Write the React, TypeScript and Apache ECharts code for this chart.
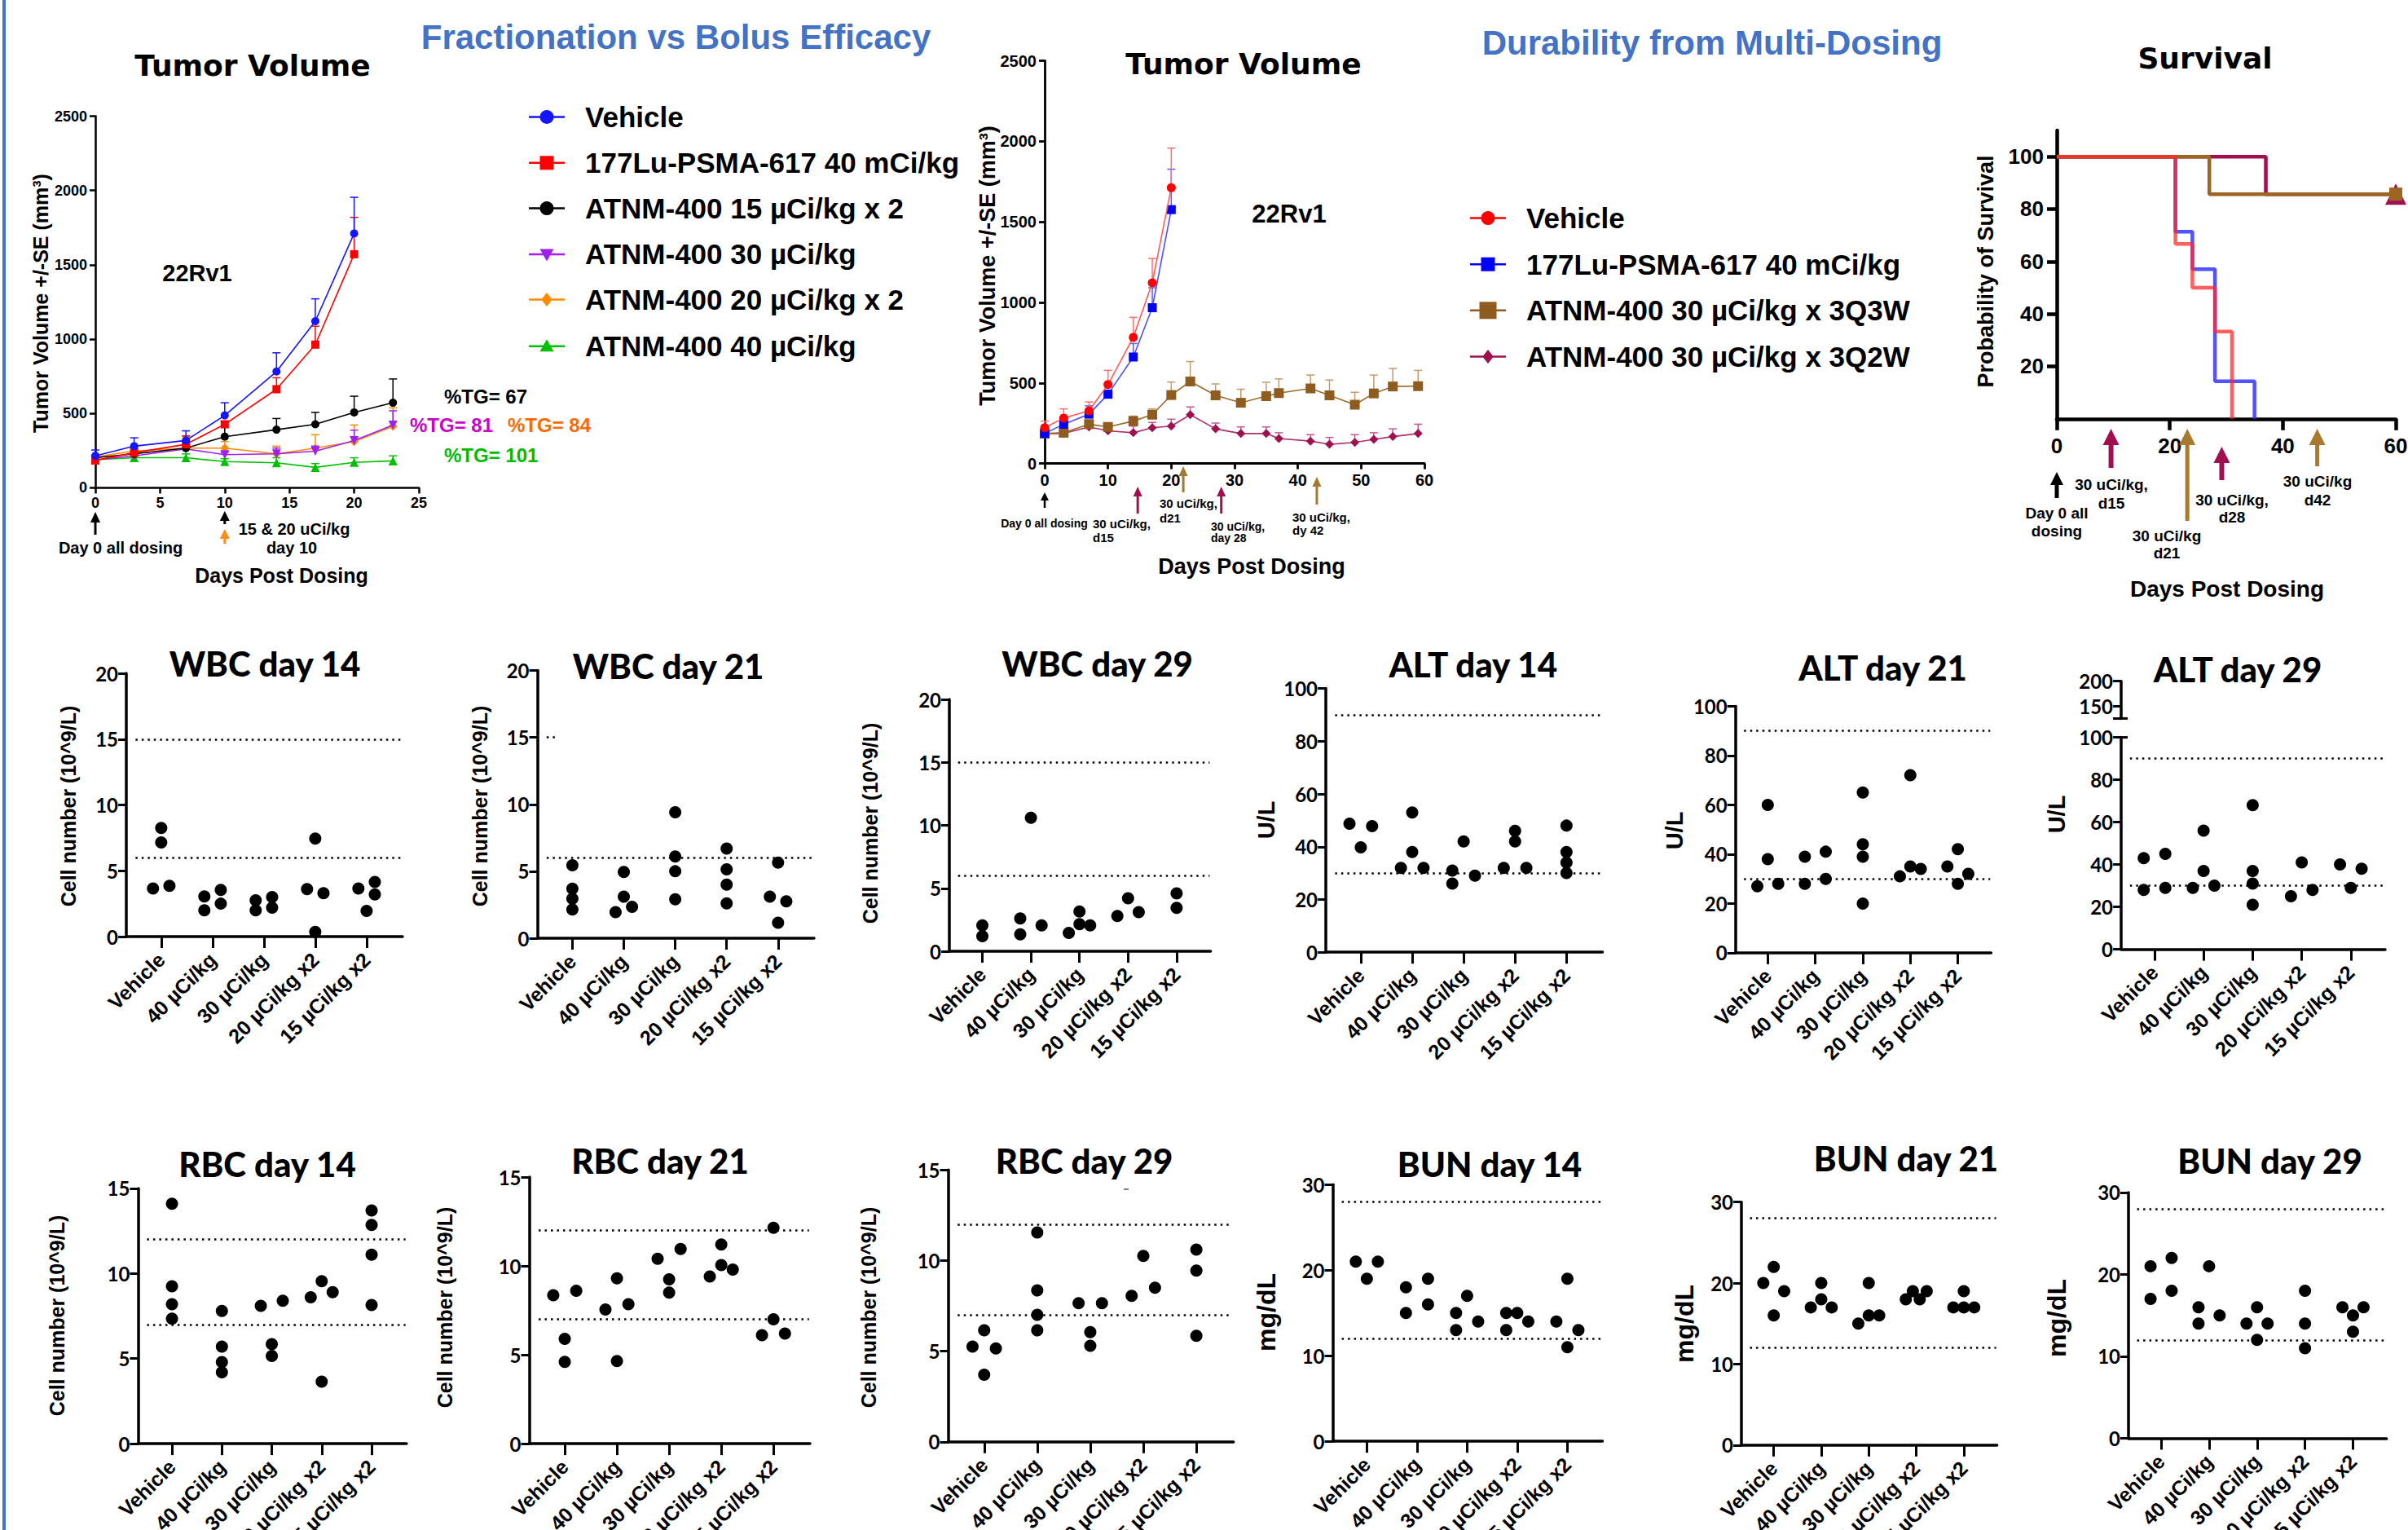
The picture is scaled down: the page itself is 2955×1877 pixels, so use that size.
import { useEffect, useRef } from 'react';
import * as echarts from 'echarts';

const W = 2955;
const H = 1877;
const ARIAL = '"Liberation Sans", Arial, Helvetica, sans-serif';
const GOTHIC = '"DejaVu Sans", Verdana, sans-serif';
const LATO = 'Lato, "Liberation Sans", sans-serif';

// ---------- Panel 1: Fractionation vs Bolus ----------
const P1_NAMES = ['Vehicle', '177Lu-PSMA-617 40 mCi/kg', 'ATNM-400 15 µCi/kg x 2', 'ATNM-400 30 µCi/kg', 'ATNM-400 20 µCi/kg x 2', 'ATNM-400 40 µCi/kg'];
const P1_DAYS = [0, 3, 7, 10, 14, 17, 20, 23];
const P1_VEHICLE = [215, 280, 318, 487, 782, 1121, 1711];
const P1_VEHICLE_SE = [39, 56, 65, 85, 126, 150, 243];
const P1_LU = [184, 236, 292, 427, 663, 963, 1571];
const P1_LU_SE = [18, 31, 57, 21, 77, 124, 248];
const P1_A15X2 = [202, 228, 267, 344, 391, 427, 507, 572];
const P1_A15X2_SE = [10, 12, 38, 104, 75, 80, 109, 160];
const P1_A30 = [189, 215, 261, 223, 228, 246, 318, 422];
const P1_A30_SE = [8, 10, 20, 15, 39, 34, 70, 96];
const P1_A20X2 = [207, 248, 267, 267, 228, 267, 311, 414];
const P1_A20X2_SE = [10, 12, 77, 44, 52, 90, 111, 124];
const P1_A40 = [189, 202, 202, 176, 168, 137, 171, 181];
const P1_A40_SE = [8, 10, 26, 20, 34, 26, 31, 34];
const P1_TG = ['%TG= 67', '%TG= 81', '%TG= 84', '%TG= 101'];

// ---------- Panel 2: Durability ----------
const P2_NAMES = ['Vehicle', '177Lu-PSMA-617 40 mCi/kg', 'ATNM-400 30 µCi/kg x 3Q3W', 'ATNM-400 30 µCi/kg x 3Q2W'];
const P2_DAYS_CTRL = [0, 3, 7, 10, 14, 17, 20];
const P2_DAYS_ATNM = [0, 3, 7, 10, 14, 17, 20, 23, 27, 31, 35, 37, 42, 45, 49, 52, 55, 59];
const P2_VEHICLE = [222, 282, 327, 490, 783, 1122, 1712];
const P2_VEHICLE_SE = [41, 57, 55, 88, 124, 151, 246];
const P2_LU = [186, 244, 306, 430, 661, 967, 1576];
const P2_LU_SE = [29, 31, 52, 24, 84, 124, 251];
const P2_Q3W = [186, 191, 244, 227, 263, 303, 425, 509, 423, 377, 418, 437, 466, 423, 365, 435, 478, 480];
const P2_Q3W_SE = [10, 10, 26, 12, 31, 36, 81, 124, 71, 84, 86, 88, 83, 95, 77, 114, 112, 98];
const P2_Q2W = [186, 186, 227, 203, 191, 222, 232, 303, 215, 186, 186, 155, 139, 119, 131, 150, 167, 186];
const P2_Q2W_SE = [10, 10, 15, 15, 41, 33, 43, 48, 36, 41, 41, 36, 40, 43, 48, 41, 48, 58];
const P2_DOSE_DAYS_Q2W = [14.7, 27.9];
const P2_DOSE_DAYS_Q3W = [21.9, 43];

// ---------- Survival ----------
const SURV_VEHICLE_DAYS = [0, 21, 24, 28, 31];
const SURV_VEHICLE_PCT = [100, 66.7, 50, 33.3, 0];
const SURV_LU_DAYS = [0, 21, 24, 28, 35];
const SURV_LU_PCT = [100, 71.4, 57.1, 14.3, 0];
const SURV_Q3W_DAYS = [0, 27, 60];
const SURV_Q3W_PCT = [100, 85.7, 85.7];
const SURV_Q2W_DAYS = [0, 37, 60];
const SURV_Q2W_PCT = [100, 85.7, 85.7];
const SURV_DOSE_DAYS_Q2W = [9.6, 29.2];
const SURV_DOSE_DAYS_Q3W = [23.1, 46.1];

// ---------- Blood chemistry scatter ----------
const CATEGORIES = ['Vehicle', '40 µCi/kg', '30 µCi/kg', '20 µCi/kg x2', '15 µCi/kg x2'];
const WBC14_VALUES = [[8.25, 7.15, 3.65, 3.85], [3.05, 2.0, 3.55, 2.5], [2.75, 2.0, 3.0, 2.2], [7.45, 3.6, 3.3, 0.35], [3.65, 1.95, 4.15, 3.2]];
const WBC14_SIDES = [[0, 0, -1, 1], [-1, -1, 1, 1], [-1, -1, 1, 1], [0, -1, 1, 0], [-1, 0, 1, 1]];
const WBC21_VALUES = [[5.45, 3.7, 2.95, 2.15], [4.95, 3.1, 1.95, 2.35], [9.4, 6.1, 5.0, 2.9], [6.7, 5.15, 4.0, 2.6], [5.65, 3.1, 2.75, 1.15]];
const WBC21_SIDES = [[0, 0, 0, 0], [0, 0, -1, 1], [0, 0, 0, 0], [0, 0, 0, 0], [0, -1, 1, 0]];
const WBC29_VALUES = [[2.05, 1.2], [10.6, 2.6, 1.35, 2.05], [1.45, 3.15, 2.15, 2.05], [2.8, 4.2, 3.1], [4.6, 3.45]];
const WBC29_SIDES = [[0, 0], [0, -1, -1, 1], [-1, 0, 0, 1], [-1, 0, 1], [0, 0]];
const ALT14_VALUES = [[48.7, 47.8, 39.8], [53, 38, 32, 32], [31, 26, 42, 29], [46, 42, 32, 32], [48, 38, 34, 30]];
const ALT14_SIDES = [[-1, 1, 0], [0, 0, -1, 1], [-1, -1, 0, 1], [0, 0, -1, 1], [0, 0, 0, 0]];
const ALT21_VALUES = [[60, 38, 27, 28], [39, 28, 41, 30], [65, 44, 39, 20], [72, 31, 35, 34], [35, 42, 28, 32]];
const ALT21_SIDES = [[0, 0, -1, 1], [-1, -1, 1, 1], [0, 0, 0, 0], [0, -1, 0, 1], [-1, 0, 0, 1]];
const ALT29_VALUES = [[43, 28, 45, 29], [56, 37, 29, 30], [68, 37, 31, 21], [25, 41, 28], [40, 29, 38]];
const ALT29_SIDES = [[-1, -1, 1, 1], [0, 0, -1, 1], [0, 0, 0, 0], [-1, 0, 1], [-1, 0, 1]];
const RBC14_VALUES = [[14.1, 9.25, 8.2, 7.35], [7.8, 5.7, 4.8, 4.2], [8.1, 8.4, 5.85, 5.15], [8.6, 9.55, 8.9, 3.65], [13.7, 12.85, 11.1, 8.15]];
const RBC14_SIDES = [[0, 0, 0, 0], [0, 0, 0, 0], [-1, 1, 0, 0], [-1, 0, 1, 0], [0, 0, 0, 0]];
const RBC21_VALUES = [[8.35, 8.6, 5.9, 4.6], [7.55, 7.85, 9.3, 4.65], [10.4, 10.95, 9.25, 8.5], [9.4, 11.2, 10.05, 9.8], [12.15, 7.0, 6.1, 6.2]];
const RBC21_SIDES = [[-1, 1, 0, 0], [-1, 1, 0, 0], [-1, 1, 0, 0], [-1, 0, 0, 1], [0, 0, -1, 1]];
const RBC29_VALUES = [[5.25, 6.15, 5.15, 3.7], [11.55, 8.35, 7.0, 6.15], [7.65, 7.65, 6.05, 5.3], [8.05, 10.25, 8.5], [10.6, 9.45, 5.85]];
const RBC29_SIDES = [[-1, 0, 1, 0], [0, 0, 0, 0], [-1, 1, 0, 0], [-1, 0, 1], [0, 0, 0]];
const BUN14_VALUES = [[21, 21, 19], [18, 15, 19, 16], [15, 13, 17, 14], [15, 13, 15, 14], [14, 19, 13, 11]];
const BUN14_SIDES = [[-1, 1, 0], [-1, -1, 1, 1], [-1, -1, 0, 1], [-1, -1, 0, 1], [-1, 0, 1, 0]];
const BUN21_VALUES = [[20, 22, 19, 16], [17, 20, 18, 17], [15, 20, 16, 16], [18, 19, 18, 19], [17, 19, 17, 17]];
const BUN21_SIDES = [[-1, 0, 1, 0], [-1, 0, 0, 1], [-1, 0, 0, 1], [-1, -0.33, 0.33, 1], [-1, 0, 0, 1]];
const BUN29_VALUES = [[21, 17, 22, 18], [16, 14, 21, 15], [14, 16, 12, 14], [18, 14, 11], [16, 15, 16, 13]];
const BUN29_SIDES = [[-1, -1, 1, 1], [-1, -1, 0, 1], [-1, 0, 0, 1], [0, 0, 0], [-1, 0, 1, 0]];
const WBC_RANGE = [15, 6];
const ALT_RANGE = [90, 30];
const RBC_RANGE = [12, 7];
const BUN_RANGE = [28, 12];

// ---------- Layout ----------
const P1 = { left: 117, top: 142.5, right: 514, bottom: 598.4, xMin: 0, xMax: 25 };
const P2 = { left: 1282, top: 74.6, right: 1748, bottom: 568.6, xMin: 0, xMax: 60 };
const PS = { left: 2524, top: 160, right: 2940, bottom: 513.8, xMin: 0, xMax: 60 };
const SX_MIN = -0.68;
const SX_MAX = 4.7;

const SCATTER_PANELS = [
  { title: 'WBC day 14', values: WBC14_VALUES, sides: WBC14_SIDES, spread: 0.16, yMax: 20, yInt: 5, yName: 'Cell number (10^9/L)', nameSize: 25, refs: WBC_RANGE, stubs: [], L: { left: 155, top: 826, right: 494, bottom: 1149, tx: 325, ty: 814, nx: 84, ny: 989 } },
  { title: 'WBC day 21', values: WBC21_VALUES, sides: WBC21_SIDES, spread: 0.16, yMax: 20, yInt: 5, yName: 'Cell number (10^9/L)', nameSize: 25, refs: [WBC_RANGE[1]], stubs: [WBC_RANGE[0]], L: { left: 659.5, top: 822.5, right: 999, bottom: 1151, tx: 820, ty: 817, nx: 589, ny: 989 } },
  { title: 'WBC day 29', values: WBC29_VALUES, sides: WBC29_SIDES, spread: 0.22, yMax: 20, yInt: 5, yName: 'Cell number (10^9/L)', nameSize: 25, refs: WBC_RANGE, stubs: [], L: { left: 1165, top: 858, right: 1485.6, bottom: 1167, tx: 1346.6, ty: 814, nx: 1068, ny: 1010 } },
  { title: 'ALT day 14', values: ALT14_VALUES, sides: ALT14_SIDES, spread: 0.22, yMax: 100, yInt: 20, yName: 'U/L', nameSize: 29, refs: ALT_RANGE, stubs: [], L: { left: 1627, top: 844.6, right: 1966.5, bottom: 1168.2, tx: 1807.7, ty: 815, nx: 1554, ny: 1006 } },
  { title: 'ALT day 21', values: ALT21_VALUES, sides: ALT21_SIDES, spread: 0.22, yMax: 100, yInt: 20, yName: 'U/L', nameSize: 29, refs: ALT_RANGE, stubs: [], L: { left: 2129.7, top: 866.4, right: 2443.4, bottom: 1168.9, tx: 2310.6, ty: 819, nx: 2055, ny: 1019 } },
  { title: 'ALT day 29', values: ALT29_VALUES, sides: ALT29_SIDES, spread: 0.22, yMax: 100, yInt: 20, yName: 'U/L', nameSize: 29, refs: ALT_RANGE, stubs: [], broken: { top: 835.7, bottom: 881.4, min: 126, max: 200, ticks: [150, 200] }, L: { left: 2603, top: 904.6, right: 2927, bottom: 1164.6, tx: 2746, ty: 820.7, nx: 2524, ny: 999 } },
  { title: 'RBC day 14', values: RBC14_VALUES, sides: RBC14_SIDES, spread: 0.22, yMax: 15, yInt: 5, yName: 'Cell number (10^9/L)', nameSize: 25, refs: RBC_RANGE, stubs: [], L: { left: 169.4, top: 1457.9, right: 498.9, bottom: 1771.1, tx: 328, ty: 1427.6, nx: 70, ny: 1614 } },
  { title: 'RBC day 21', values: RBC21_VALUES, sides: RBC21_SIDES, spread: 0.22, yMax: 15, yInt: 5, yName: 'Cell number (10^9/L)', nameSize: 25, refs: RBC_RANGE, stubs: [], L: { left: 649.5, top: 1444, right: 994, bottom: 1771.1, tx: 810, ty: 1424, nx: 546, ny: 1604 } },
  { title: 'RBC day 29', values: RBC29_VALUES, sides: RBC29_SIDES, spread: 0.22, yMax: 15, yInt: 5, yName: 'Cell number (10^9/L)', nameSize: 25, refs: RBC_RANGE, stubs: [], L: { left: 1163.5, top: 1435.2, right: 1513.7, bottom: 1768.8, tx: 1330.6, ty: 1424.3, nx: 1066, ny: 1604 } },
  { title: 'BUN day 14', values: BUN14_VALUES, sides: BUN14_SIDES, spread: 0.22, yMax: 30, yInt: 10, yName: 'mg/dL', nameSize: 32, refs: BUN_RANGE, stubs: [], L: { left: 1635.5, top: 1453.3, right: 1966.5, bottom: 1768.2, tx: 1828, ty: 1427.6, nx: 1554, ny: 1610 } },
  { title: 'BUN day 21', values: BUN21_VALUES, sides: BUN21_SIDES, spread: 0.22, yMax: 30, yInt: 10, yName: 'mg/dL', nameSize: 32, refs: BUN_RANGE, stubs: [], L: { left: 2137, top: 1474.7, right: 2450.7, bottom: 1772.8, tx: 2339, ty: 1421, nx: 2067, ny: 1624 } },
  { title: 'BUN day 29', values: BUN29_VALUES, sides: BUN29_SIDES, spread: 0.22, yMax: 30, yInt: 10, yName: 'mg/dL', nameSize: 32, refs: BUN_RANGE, stubs: [], L: { left: 2612, top: 1462.9, right: 2928.7, bottom: 1764.5, tx: 2785.6, ty: 1424.3, nx: 2524, ny: 1617 } },
];

const plain = (v: number) => String(v);

function xOf(p: any, v: number) {
  return p.left + ((v - p.xMin) / (p.xMax - p.xMin)) * (p.right - p.left);
}

function txt(text: string, x: number, y: number, size: number, o: any = {}) {
  return {
    type: 'text', x, y, silent: true, rotation: o.rotation || 0, z: 100,
    style: {
      text, fontSize: size, fontFamily: o.family || ARIAL, fontWeight: o.weight || 'bold',
      fontStyle: o.fontStyle || 'normal', fill: o.color || '#000',
      align: o.align || 'center', verticalAlign: o.vAlign || 'middle',
    },
  };
}

function arrow(x: number, yTop: number, yBottom: number, color: string, shaftW: number, headW: number, headH: number) {
  return [
    { type: 'line', silent: true, z: 100, shape: { x1: x, y1: yTop + headH * 0.7, x2: x, y2: yBottom }, style: { stroke: color, lineWidth: shaftW } },
    { type: 'polygon', silent: true, z: 100, shape: { points: [[x, yTop], [x - headW / 2, yTop + headH], [x + headW / 2, yTop + headH]] }, style: { fill: color } },
  ];
}

function symbolShape(shape: string, cx: number, cy: number, size: number, color: string) {
  const h = size / 2;
  if (shape === 'circle') return { type: 'circle', silent: true, z: 100, shape: { cx, cy, r: h }, style: { fill: color } };
  if (shape === 'rect') return { type: 'rect', silent: true, z: 100, shape: { x: cx - h, y: cy - h, width: size, height: size }, style: { fill: color } };
  if (shape === 'triangle') return { type: 'polygon', silent: true, z: 100, shape: { points: [[cx, cy - h], [cx + h, cy + h * 0.75], [cx - h, cy + h * 0.75]] }, style: { fill: color } };
  if (shape === 'triangleDown') return { type: 'polygon', silent: true, z: 100, shape: { points: [[cx - h, cy - h * 0.75], [cx + h, cy - h * 0.75], [cx, cy + h]] }, style: { fill: color } };
  return { type: 'polygon', silent: true, z: 100, shape: { points: [[cx, cy - h], [cx + h * 0.8, cy], [cx, cy + h], [cx - h * 0.8, cy]] }, style: { fill: color } };
}

function legendRow(cx: number, cy: number, color: string, shape: string, size: number, label: string, textX: number, fontSize: number) {
  return [
    { type: 'line', silent: true, z: 100, shape: { x1: cx - 22, y1: cy, x2: cx + 22, y2: cy }, style: { stroke: color, lineWidth: 2.5 } },
    symbolShape(shape, cx, cy, size, color),
    txt(label, textX, cy, fontSize, { align: 'left' }),
  ];
}

function buildOption() {
  const grids: any[] = [];
  const xAxes: any[] = [];
  const yAxes: any[] = [];
  const series: any[] = [];
  const g: any[] = [];

  const axLine = (w: number) => ({ show: true, onZero: false, lineStyle: { color: '#000', width: w } });
  const addGrid = (p: any) => {
    grids.push({ left: p.left, top: p.top, width: p.right - p.left, height: p.bottom - p.top, containLabel: false, outerBoundsMode: 'none' });
    return grids.length - 1;
  };

  const lineSeries = (gi: number, days: number[], vals: number[], sym: string, size: number, color: string, lineColor: string, z: number, rot = 0) => ({
    type: 'line', xAxisIndex: gi, yAxisIndex: gi, data: vals.map((v, i) => [days[i], v]),
    symbol: sym, symbolSize: size, symbolRotate: rot, showSymbol: true, z,
    lineStyle: { color: lineColor, width: 1.6 }, itemStyle: { color, opacity: 1 }, emphasis: { disabled: true },
  });
  const errSeries = (gi: number, days: number[], vals: number[], se: number[], color: string, z: number) => ({
    type: 'custom', xAxisIndex: gi, yAxisIndex: gi, silent: true, z,
    data: vals.map((v, i) => [days[i], v, v + se[i]]),
    encode: { x: 0, y: [1, 2] },
    renderItem: (_p: any, api: any) => {
      const a = api.coord([api.value(0), api.value(1)]);
      const b = api.coord([api.value(0), api.value(2)]);
      return {
        type: 'group', children: [
          { type: 'line', shape: { x1: a[0], y1: a[1], x2: b[0], y2: b[1] }, style: { stroke: color, lineWidth: 1.5 } },
          { type: 'line', shape: { x1: b[0] - 5, y1: b[1], x2: b[0] + 5, y2: b[1] }, style: { stroke: color, lineWidth: 1.5 } },
        ],
      };
    },
  });

  // Left blue bar
  g.push({ type: 'rect', silent: true, shape: { x: 3, y: 0, width: 4, height: H }, style: { fill: '#4472C4' } });

  // ===== Panel 1 =====
  {
    const gi = addGrid(P1);
    xAxes.push({ gridIndex: gi, type: 'value', min: 0, max: 25, interval: 5, axisLine: axLine(2.5), axisTick: { show: true, length: 7, lineStyle: { color: '#000', width: 2.5 } }, axisLabel: { formatter: plain, color: '#000', fontFamily: ARIAL, fontWeight: 'bold', fontSize: 18, margin: 10 }, splitLine: { show: false } });
    yAxes.push({ gridIndex: gi, type: 'value', min: 0, max: 2500, interval: 500, axisLine: axLine(2.5), axisTick: { show: true, length: 7, lineStyle: { color: '#000', width: 2.5 } }, axisLabel: { formatter: plain, color: '#000', fontFamily: ARIAL, fontWeight: 'bold', fontSize: 18, margin: 10 }, splitLine: { show: false } });
    const defs = [
      { v: P1_VEHICLE, se: P1_VEHICLE_SE, c: '#1414FF', sym: 'circle', s: 10, rot: 0, z: 8 },
      { v: P1_LU, se: P1_LU_SE, c: '#FF0000', sym: 'rect', s: 10, rot: 0, z: 7 },
      { v: P1_A15X2, se: P1_A15X2_SE, c: '#000000', sym: 'circle', s: 10, rot: 0, z: 6 },
      { v: P1_A30, se: P1_A30_SE, c: '#A020F0', sym: 'triangle', s: 11, rot: 180, z: 5 },
      { v: P1_A20X2, se: P1_A20X2_SE, c: '#FF8C00', sym: 'diamond', s: 11, rot: 0, z: 4 },
      { v: P1_A40, se: P1_A40_SE, c: '#00C000', sym: 'triangle', s: 11, rot: 0, z: 3 },
    ];
    defs.forEach((d, i) => {
      series.push(errSeries(gi, P1_DAYS, d.v, d.se, d.c, d.z));
      series.push({ ...lineSeries(gi, P1_DAYS, d.v, d.sym, d.s, d.c, d.c, d.z, d.rot), name: P1_NAMES[i] });
    });
    const rows = [143.5, 199.8, 255.6, 311.9, 367.4, 424.8];
    const shapes = ['circle', 'rect', 'circle', 'triangleDown', 'diamond', 'triangle'];
    defs.forEach((d, i) => g.push(...legendRow(671, rows[i], d.c, shapes[i], 17, P1_NAMES[i], 718, 35)));
    g.push(txt('Tumor Volume', 310, 80, 36, { family: GOTHIC }));
    g.push(txt('Fractionation vs Bolus Efficacy', 829.5, 45, 42, { color: '#4472C4' }));
    g.push(txt('Tumor Volume +/-SE (mm³)', 50, 372, 25, { rotation: Math.PI / 2 }));
    g.push(txt('22Rv1', 242, 335, 29));
    g.push(...arrow(xOf(P1, 0), 628, 656, '#000', 3, 12, 13));
    g.push(...arrow(xOf(P1, 10), 627, 643, '#000', 3, 12, 12));
    g.push(...arrow(xOf(P1, 10), 649, 667, '#FF8C1A', 3, 12, 12));
    g.push(txt('Day 0 all dosing', 148, 672, 20));
    g.push(txt('15 & 20 uCi/kg', 361, 649, 20));
    g.push(txt('day 10', 358, 672, 20));
    g.push(txt('Days Post Dosing', 345.5, 706, 25));
    g.push(txt(P1_TG[0], 545, 486, 24, { align: 'left', color: '#000' }));
    g.push(txt(P1_TG[1], 503, 521, 24, { align: 'left', color: '#CC00CC' }));
    g.push(txt(P1_TG[2], 623, 521, 24, { align: 'left', color: '#FF6A00' }));
    g.push(txt(P1_TG[3], 545, 558, 24, { align: 'left', color: '#00BB00' }));
  }

  // ===== Panel 2 =====
  {
    const gi = addGrid(P2);
    xAxes.push({ gridIndex: gi, type: 'value', min: 0, max: 60, interval: 10, axisLine: axLine(2.8), axisTick: { show: true, length: 7, lineStyle: { color: '#000', width: 2.8 } }, axisLabel: { formatter: plain, color: '#000', fontFamily: ARIAL, fontWeight: 'bold', fontSize: 20, margin: 10 }, splitLine: { show: false } });
    yAxes.push({ gridIndex: gi, type: 'value', min: 0, max: 2500, interval: 500, axisLine: axLine(2.8), axisTick: { show: true, length: 7, lineStyle: { color: '#000', width: 2.8 } }, axisLabel: { formatter: plain, color: '#000', fontFamily: ARIAL, fontWeight: 'bold', fontSize: 20, margin: 10 }, splitLine: { show: false } });
    const defs = [
      { d: P2_DAYS_CTRL, v: P2_VEHICLE, se: P2_VEHICLE_SE, c: '#FF0000', lc: '#FF5A5A', ec: '#FF7070', sym: 'circle', s: 11, z: 8, legendShape: 'circle', ls: 17 },
      { d: P2_DAYS_CTRL, v: P2_LU, se: P2_LU_SE, c: '#0000FF', lc: '#5050FF', ec: '#5A5AFF', sym: 'rect', s: 11, z: 7, legendShape: 'rect', ls: 17 },
      { d: P2_DAYS_ATNM, v: P2_Q3W, se: P2_Q3W_SE, c: '#8E5C1E', lc: '#9C6B2C', ec: '#C29C6A', sym: 'rect', s: 12, z: 6, legendShape: 'rect', ls: 21 },
      { d: P2_DAYS_ATNM, v: P2_Q2W, se: P2_Q2W_SE, c: '#A0104E', lc: '#B0306A', ec: '#C65A8C', sym: 'diamond', s: 11, z: 5, legendShape: 'diamond', ls: 17 },
    ];
    defs.forEach((d, i) => {
      series.push(errSeries(gi, d.d, d.v, d.se, d.ec, d.z));
      series.push({ ...lineSeries(gi, d.d, d.v, d.sym, d.s, d.c, d.lc, d.z), name: P2_NAMES[i] });
    });
    const rows = [267.6, 324.2, 380.8, 437.5];
    defs.forEach((d, i) => g.push(...legendRow(1826, rows[i], d.c, d.legendShape, d.ls, P2_NAMES[i], 1873, 35)));
    g.push(txt('Tumor Volume', 1526, 78, 36, { family: GOTHIC }));
    g.push(txt('Durability from Multi-Dosing', 2101, 52, 42, { color: '#4472C4' }));
    g.push(txt('Tumor Volume +/-SE (mm³)', 1212, 326, 27, { rotation: Math.PI / 2 }));
    g.push(txt('22Rv1', 1582, 262, 31));
    g.push(...arrow(xOf(P2, 0), 604, 623, '#000', 2.5, 10, 10));
    g.push(txt('Day 0 all dosing', 1281.5, 642, 14));
    g.push(...arrow(xOf(P2, P2_DOSE_DAYS_Q2W[0]), 597, 630, '#A0104E', 3, 11, 12));
    g.push(...arrow(xOf(P2, P2_DOSE_DAYS_Q3W[0]), 572, 604, '#A5782F', 3, 11, 12));
    g.push(...arrow(xOf(P2, P2_DOSE_DAYS_Q2W[1]), 597, 630, '#A0104E', 3, 11, 12));
    g.push(...arrow(xOf(P2, P2_DOSE_DAYS_Q3W[1]), 585, 619, '#A5782F', 3, 11, 12));
    g.push(txt('30 uCi/kg,', 1341, 642, 15, { align: 'left' }));
    g.push(txt('d15', 1341, 659, 15, { align: 'left' }));
    g.push(txt('30 uCi/kg,', 1423, 617, 15, { align: 'left' }));
    g.push(txt('d21', 1423, 635, 15, { align: 'left' }));
    g.push(txt('30 uCi/kg,', 1486, 646, 14, { align: 'left' }));
    g.push(txt('day 28', 1486, 660, 14, { align: 'left' }));
    g.push(txt('30 uCi/kg,', 1586, 634, 15, { align: 'left' }));
    g.push(txt('dy 42', 1586, 650, 15, { align: 'left' }));
    g.push(txt('Days Post Dosing', 1536, 695, 27));
  }

  // ===== Survival =====
  {
    const gi = addGrid(PS);
    const tickVals = [20, 40, 60, 80, 100];
    xAxes.push({ gridIndex: gi, type: 'value', min: 0, max: 60, interval: 20, axisLine: axLine(4.5), axisTick: { show: true, length: 14, lineStyle: { color: '#000', width: 4.5 } }, axisLabel: { formatter: plain, color: '#000', fontFamily: ARIAL, fontWeight: 'bold', fontSize: 26, margin: 20 }, splitLine: { show: false } });
    yAxes.push({ gridIndex: gi, type: 'value', min: 0, max: 110, axisLine: axLine(4.5), axisTick: { show: true, length: 12, customValues: tickVals, lineStyle: { color: '#000', width: 4.5 } }, axisLabel: { customValues: tickVals, formatter: plain, color: '#000', fontFamily: ARIAL, fontWeight: 'bold', fontSize: 26, margin: 16 }, splitLine: { show: false } });
    const step = (days: number[], pct: number[], color: string, z: number, op: number, name: string) => ({
      type: 'line', name, step: 'end', xAxisIndex: gi, yAxisIndex: gi, z, symbol: 'none',
      data: pct.map((v, i) => [days[i], v]), lineStyle: { color, width: 4.5, opacity: op }, emphasis: { disabled: true },
    });
    series.push(step(SURV_LU_DAYS, SURV_LU_PCT, '#3434FF', 2, 0.85, P2_NAMES[1]));
    series.push(step(SURV_Q2W_DAYS, SURV_Q2W_PCT, '#A0104E', 3, 1, P2_NAMES[3]));
    series.push(step(SURV_Q3W_DAYS, SURV_Q3W_PCT, '#9C6524', 4, 1, P2_NAMES[2]));
    series.push(step(SURV_VEHICLE_DAYS, SURV_VEHICLE_PCT, '#FF2A2A', 5, 0.75, P2_NAMES[0]));
    const lastQ2 = SURV_Q2W_DAYS.length - 1;
    const lastQ3 = SURV_Q3W_DAYS.length - 1;
    series.push({ type: 'scatter', xAxisIndex: gi, yAxisIndex: gi, z: 6, symbol: 'triangle', symbolSize: 26, itemStyle: { color: '#A0104E', opacity: 1 }, data: [[SURV_Q2W_DAYS[lastQ2], SURV_Q2W_PCT[lastQ2]]], emphasis: { disabled: true } });
    series.push({ type: 'scatter', xAxisIndex: gi, yAxisIndex: gi, z: 7, symbol: 'rect', symbolSize: 16, itemStyle: { color: '#9C6524', opacity: 1 }, data: [[SURV_Q3W_DAYS[lastQ3], SURV_Q3W_PCT[lastQ3]]], emphasis: { disabled: true } });

    g.push(txt('Survival', 2706, 71, 36, { family: GOTHIC }));
    g.push(txt('Probability of Survival', 2437, 333, 27, { rotation: Math.PI / 2 }));
    g.push(...arrow(xOf(PS, 0), 579, 611, '#000', 5, 16, 16));
    g.push(txt('Day 0 all', 2524, 629, 19));
    g.push(txt('dosing', 2524, 651, 19));
    g.push(...arrow(xOf(PS, SURV_DOSE_DAYS_Q2W[0]), 526, 574, '#A0104E', 6, 20, 20));
    g.push(txt('30 uCi/kg,', 2591, 594, 19));
    g.push(txt('d15', 2591, 617, 19));
    g.push(...arrow(xOf(PS, SURV_DOSE_DAYS_Q3W[0]), 526, 639, '#A87A30', 5, 20, 20));
    g.push(txt('30 uCi/kg', 2659, 657, 19));
    g.push(txt('d21', 2659, 678, 19));
    g.push(...arrow(xOf(PS, SURV_DOSE_DAYS_Q2W[1]), 548, 589, '#A0104E', 6, 20, 20));
    g.push(txt('30 uCi/kg,', 2739, 613, 19));
    g.push(txt('d28', 2739, 634, 19));
    g.push(...arrow(xOf(PS, SURV_DOSE_DAYS_Q3W[1]), 526, 572, '#A87A30', 5, 20, 20));
    g.push(txt('30 uCi/kg', 2844, 590, 19));
    g.push(txt('d42', 2844, 613, 19));
    g.push(txt('Days Post Dosing', 2733, 722, 28));
  }

  // ===== Scatter panels =====
  const catTicks = [0, 1, 2, 3, 4];
  SCATTER_PANELS.forEach((p: any) => {
    const L = p.L;
    const gi = addGrid(L);
    xAxes.push({
      gridIndex: gi, type: 'value', min: SX_MIN, max: SX_MAX, axisLine: axLine(3.5),
      axisTick: { show: true, customValues: catTicks, length: 14, lineStyle: { color: '#000', width: 3 } },
      axisLabel: { customValues: catTicks, formatter: (v: number) => CATEGORIES[Math.round(v)] || '', rotate: 45, color: '#000', fontFamily: ARIAL, fontWeight: 'bold', fontSize: 25, margin: 24 },
      splitLine: { show: false },
    });
    yAxes.push({
      gridIndex: gi, type: 'value', min: 0, max: p.yMax, interval: p.yInt, axisLine: axLine(3.5),
      axisTick: { show: true, length: 10, lineStyle: { color: '#000', width: 3 } },
      axisLabel: { formatter: plain, color: '#000', fontFamily: LATO, fontWeight: 'bold', fontSize: 24, margin: 10 },
      splitLine: { show: false },
    });
    const pts: number[][] = [];
    p.values.forEach((grp: number[], gIdx: number) => grp.forEach((v: number, k: number) => pts.push([gIdx + p.sides[gIdx][k] * p.spread, v])));
    const mlData: any[] = [];
    p.refs.forEach((r: number) => mlData.push([{ coord: [-0.5, r] }, { coord: [SX_MAX - 0.02, r] }]));
    p.stubs.forEach((r: number) => mlData.push([{ coord: [-0.5, r] }, { coord: [-0.28, r] }]));
    series.push({
      type: 'scatter', name: p.title, xAxisIndex: gi, yAxisIndex: gi, data: pts, symbol: 'circle', symbolSize: 15,
      itemStyle: { color: '#000', opacity: 1 }, emphasis: { disabled: true }, z: 5,
      markLine: { silent: true, symbol: ['none', 'none'], label: { show: false }, emphasis: { disabled: true }, lineStyle: { color: '#000', type: [2.5, 5], width: 2.5, opacity: 1 }, data: mlData },
    });
    g.push(txt(p.title, L.tx, L.ty, 42, { family: LATO, weight: 900 }));
    g.push(txt(p.yName, L.nx, L.ny, p.nameSize, { rotation: Math.PI / 2 }));

    if (p.broken) {
      const b = p.broken;
      const gu = addGrid({ left: L.left, right: L.right, top: b.top, bottom: b.bottom });
      xAxes.push({ gridIndex: gu, type: 'value', min: SX_MIN, max: SX_MAX, show: false });
      yAxes.push({
        gridIndex: gu, type: 'value', min: b.min, max: b.max, axisLine: axLine(3.5),
        axisTick: { show: true, customValues: [b.min, ...b.ticks], length: 10, lineStyle: { color: '#000', width: 3 } },
        axisLabel: { customValues: b.ticks, formatter: plain, color: '#000', fontFamily: LATO, fontWeight: 'bold', fontSize: 24, margin: 10 },
        splitLine: { show: false },
      });
      g.push({ type: 'line', silent: true, shape: { x1: L.left - 2, y1: b.bottom, x2: L.left + 8, y2: b.bottom }, style: { stroke: '#000', lineWidth: 3 } });
      g.push({ type: 'line', silent: true, shape: { x1: L.left - 2, y1: L.top, x2: L.left + 8, y2: L.top }, style: { stroke: '#000', lineWidth: 3 } });
    }
  });

  // tiny stray mark in RBC day 29 panel
  g.push({ type: 'line', silent: true, shape: { x1: 1379, y1: 1459, x2: 1385, y2: 1459 }, style: { stroke: '#555', lineWidth: 1.5 } });

  return {
    animation: false,
    backgroundColor: '#ffffff',
    textStyle: { fontFamily: ARIAL },
    tooltip: { show: false },
    grid: grids,
    xAxis: xAxes,
    yAxis: yAxes,
    series,
    graphic: { elements: g },
  };
}

export default function App() {
  const ref = useRef<HTMLDivElement | null>(null);
  useEffect(() => {
    if (!ref.current) return;
    const chart = echarts.init(ref.current, null, { renderer: 'svg', width: W, height: H });
    chart.setOption(buildOption() as any);
    return () => chart.dispose();
  }, []);
  return <div ref={ref} style={{ position: 'absolute', left: 0, top: 0, width: W, height: H, background: '#fff' }} />;
}
